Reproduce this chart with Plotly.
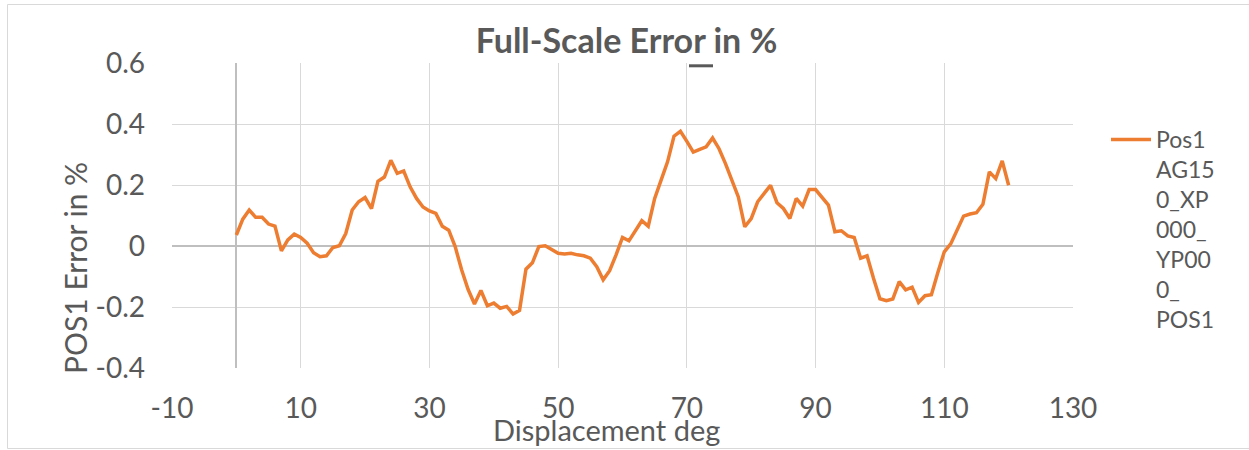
import plotly.graph_objects as go

# Displacement grid (deg), 1-degree steps from 0 to 120
displacement_deg = list(range(0, 121))

# POS1 full-scale error in %
error_pct = [
    0.036, 0.088, 0.118, 0.094, 0.094, 0.072, 0.065, -0.016, 0.020, 0.039,
    0.028, 0.009, -0.022, -0.035, -0.032, -0.005, 0.001, 0.041, 0.118, 0.145,
    0.159, 0.123, 0.212, 0.226, 0.281, 0.238, 0.246, 0.194, 0.156, 0.128,
    0.115, 0.107, 0.065, 0.052, -0.002, -0.078, -0.142, -0.190, -0.146, -0.196,
    -0.187, -0.204, -0.198, -0.223, -0.211, -0.076, -0.055, -0.002, 0.001, -0.011,
    -0.024, -0.026, -0.024, -0.029, -0.032, -0.040, -0.068, -0.111, -0.081, -0.029,
    0.028, 0.017, 0.048, 0.083, 0.065, 0.156, 0.216, 0.276, 0.360, 0.376,
    0.343, 0.308, 0.317, 0.325, 0.354, 0.319, 0.270, 0.216, 0.161, 0.063,
    0.090, 0.145, 0.174, 0.199, 0.142, 0.123, 0.090, 0.156, 0.131, 0.185,
    0.185, 0.161, 0.134, 0.047, 0.050, 0.033, 0.028, -0.040, -0.032, -0.106,
    -0.173, -0.179, -0.174, -0.117, -0.144, -0.135, -0.185, -0.163, -0.160, -0.087,
    -0.019, 0.007, 0.055, 0.098, 0.105, 0.109, 0.137, 0.243, 0.221, 0.279,
    0.199,
]

x_tick_vals = [-10, 10, 30, 50, 70, 90, 110, 130]
x_tick_text = ["-10", "10", "30", "50", "70", "90", "110", "130"]
y_tick_vals = [-0.4, -0.2, 0, 0.2, 0.4, 0.6]
y_tick_text = ["-0.4", "-0.2", "0", "0.2", "0.4", "0.6"]

series_name = "Pos1<br>AG15<br>0_XP<br>000_<br>YP00<br>0_<br>POS1"
chart_title = "Full-Scale Error in %"
x_title = "Displacement deg"
y_title = "POS1 Error in %"

TXT = "#595959"
GRID = "#D9D9D9"
FONT = "Lato"

# figure pixel geometry
W, H = 1249, 450
L, R, T, B = 172, 176, 63, 82
PW, PH = W - L - R, H - T - B


def px_x(p):
    return (p - L) / PW


def px_y(p):
    return (H - B - p) / PH


fig = go.Figure()
fig.add_trace(go.Scatter(
    x=displacement_deg, y=error_pct, mode="lines", name=series_name,
    line=dict(color="#ED7D31", width=3.5),
    showlegend=True,
))

fig.update_layout(
    width=W, height=H,
    margin=dict(l=L, r=R, t=T, b=B, autoexpand=False),
    paper_bgcolor="white", plot_bgcolor="white",
    font=dict(family=FONT, color=TXT),
    title=dict(text=chart_title, x=px_x(626.5), xanchor="center", xref="paper",
               y=1 - 41 / H, yanchor="middle",
               font=dict(family=FONT, size=34, color=TXT, weight="bold")),
    xaxis=dict(range=[-10, 130], tickvals=x_tick_vals, ticktext=x_tick_text,
               showgrid=True, gridcolor=GRID, gridwidth=1,
               zeroline=True, zerolinecolor="#BFBFBF", zerolinewidth=1.5,
               showline=False, ticks="", ticklabelstandoff=21,
               tickfont=dict(family=FONT, size=28, color=TXT)),
    yaxis=dict(range=[-0.4, 0.6], tickvals=y_tick_vals, ticktext=y_tick_text,
               showgrid=True, gridcolor=GRID, gridwidth=1,
               zeroline=True, zerolinecolor="#BFBFBF", zerolinewidth=1.5,
               showline=False, ticks="", ticklabelstandoff=26,
               tickfont=dict(family=FONT, size=28, color=TXT)),
    legend=dict(x=px_x(1106), xanchor="left", y=px_y(118), yanchor="top",
                valign="top", font=dict(family=FONT, size=23, color=TXT),
                bgcolor="rgba(0,0,0,0)", itemwidth=40, tracegroupgap=0),
    annotations=[
        dict(text=x_title, xref="paper", yref="paper", x=px_x(606.7), y=px_y(429),
             xanchor="center", yanchor="middle", showarrow=False,
             font=dict(family=FONT, size=29, color=TXT)),
        dict(text=y_title, xref="paper", yref="paper", x=px_x(75), y=px_y(268),
             xanchor="center", yanchor="middle", showarrow=False, textangle=-90,
             font=dict(family=FONT, size=30, color=TXT)),
    ],
    shapes=[
        dict(type="rect", xref="paper", yref="paper",
             x0=px_x(7.5), x1=px_x(1260), y0=px_y(448.5), y1=px_y(4.5),
             line=dict(color=GRID, width=1), fillcolor="rgba(0,0,0,0)", layer="below"),
        dict(type="rect", xref="paper", yref="paper",
             x0=px_x(689), x1=px_x(713), y0=px_y(67.3), y1=px_y(64.3),
             line=dict(width=0), fillcolor=TXT),
    ],
)

fig.write_html("out.html", config={"displayModeBar": False},
               post_script="document.body.style.margin='0px';")
